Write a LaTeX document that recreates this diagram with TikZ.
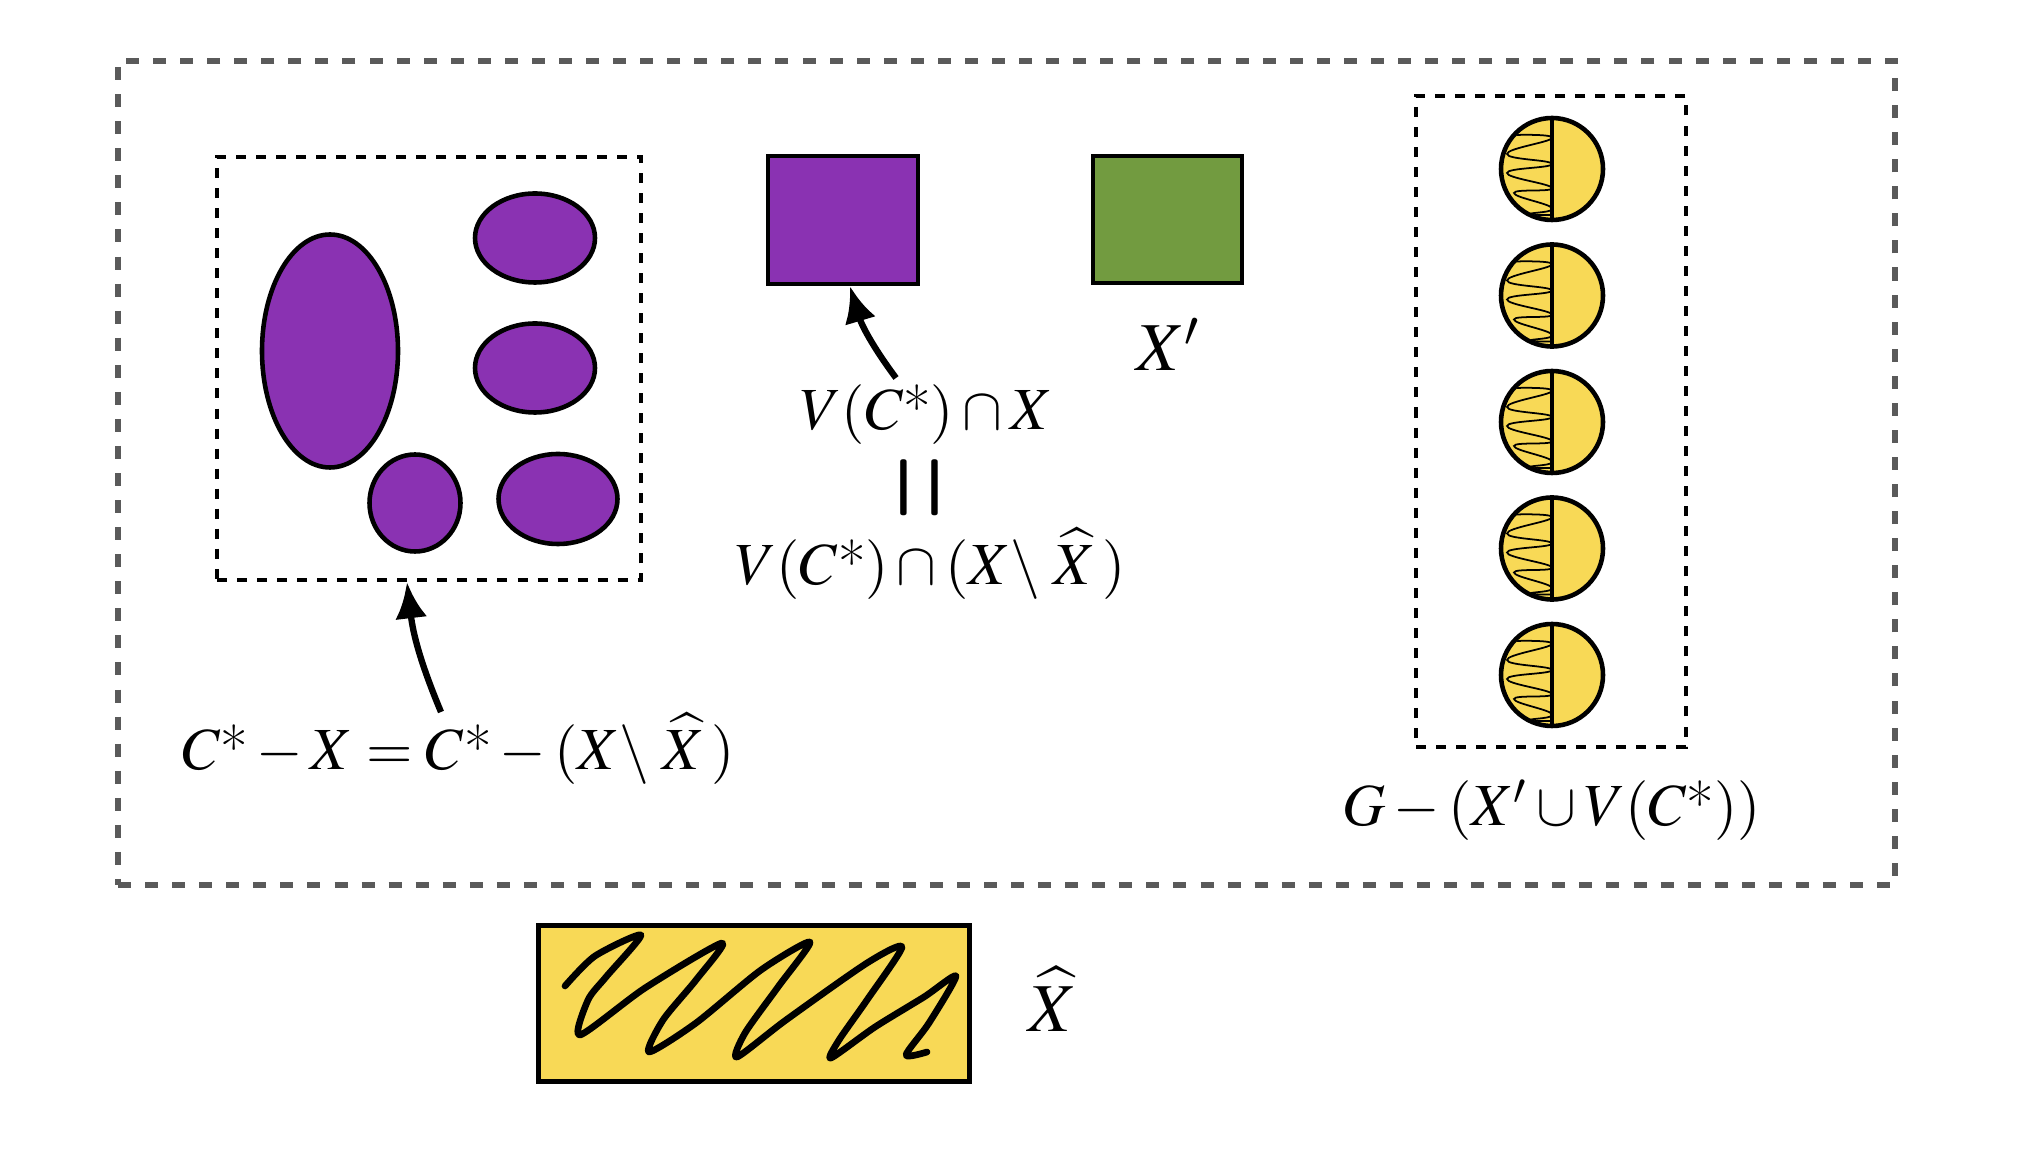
\documentclass[tikz,border=0pt]{standalone}
\usepackage{mathptmx}
\usepackage{graphicx}
\usetikzlibrary{shapes.geometric,arrows.meta,positioning,calc}
\definecolor{cpurple}{HTML}{8A32B2}
\definecolor{cgreen}{HTML}{729B40}
\definecolor{cyellow}{HTML}{F8D956}
\definecolor{cgray}{HTML}{5A5A5A}
\newcommand{\cstar}{C\mbox{*}}

\tikzset{
  frame/.style={draw=cgray, line width=1.5pt, dash pattern=on 3.7pt off 4pt, inner sep=0pt},
  setbox/.style={draw, line width=1.3pt, dash pattern=on 2.85pt off 2.85pt, inner sep=0pt},
  blob/.style={ellipse, draw, line width=1.3pt, fill=cpurple, inner sep=0pt},
  block/.style={rectangle, draw, line width=1.3pt, inner sep=0pt},
  halfball/.style={circle, draw, line width=1.3pt, fill=cyellow, minimum size=1.02cm, inner sep=0pt},
  lbl/.style={font=\fontsize{17}{21}\selectfont, inner sep=0pt, anchor=base},
  biglbl/.style={lbl, font=\fontsize{19.5}{23}\selectfont},
  pointer/.style={-{Latex[length=3.6mm,width=3.2mm]}, line width=1.8pt},
}

\begin{document}
\begin{tikzpicture}
\useasboundingbox (0,0) rectangle (20.35,-11.53);

% Outer frame
\node[frame, minimum width=17.77cm, minimum height=8.24cm] (outer) at (10.065,-4.73) {};

% Components of C* - X
\node[setbox, minimum width=4.24cm, minimum height=4.23cm] (cbox) at (4.29,-3.685) {};
\node[blob, minimum width=1.36cm, minimum height=2.33cm] (c1) at (3.30,-3.51) {};
\node[blob, minimum width=1.20cm, minimum height=0.89cm] (c2) at (5.35,-2.38) {};
\node[blob, minimum width=1.20cm, minimum height=0.89cm] (c3) at (5.35,-3.68) {};
\node[blob, minimum width=0.91cm, minimum height=0.97cm] (c4) at (4.15,-5.03) {};
\node[blob, minimum width=1.19cm, minimum height=0.90cm] (c5) at (5.58,-4.99) {};

\coordinate (tailC) at (4.41,-7.12);
\draw[pointer] (tailC) to[bend left=8] ([xshift=-2.2mm]cbox.south);
\node[lbl] (lblC) at (4.585,-7.70) {$\cstar - X = \cstar - (X\backslash\;\widehat{X}\,)$};

% V(C*) and X'
\node[block, fill=cpurple, minimum width=1.50cm, minimum height=1.28cm] (sqV) at (8.43,-2.20) {};
\node[block, fill=cgreen, minimum width=1.49cm, minimum height=1.27cm] (sqX) at (11.675,-2.195) {};
\node[biglbl] (lblX) at (11.68,-3.71) {$X'$};

\coordinate (tailV) at (8.96,-3.78);
\draw[pointer] (tailV) to[bend left=10] ([xshift=0.7mm]sqV.south);
\node[lbl] (lblV) at (9.265,-4.30) {$V(\cstar)\cap X$};
\node[font=\fontsize{24}{26}\selectfont, inner sep=0pt, rotate=90] (eqV) at (9.30,-4.88) {\scalebox{1}[1.9]{$=$}};
\node[lbl] (lblW) at (9.305,-5.85) {$V(\cstar)\cap (X\backslash\;\widehat{X}\,)$};

% Rest of the graph
\node[setbox, minimum width=2.70cm, minimum height=6.51cm] (gbox) at (15.51,-4.215) {};
\foreach \i in {0,...,4} {
  \node[halfball] (b\i) at (15.52,{-1.69-1.265*\i}) {};
  \begin{scope}
    \clip (b\i.center) circle (0.49);
    \draw[line width=0.5pt] plot[smooth, tension=0.8] coordinates {
      ($(b\i.center)+(-0.37,0.34)$) ($(b\i.center)+(0,0.31)$)
      ($(b\i.center)+(-0.45,0.15)$) ($(b\i.center)+(0,0.05)$)
      ($(b\i.center)+(-0.45,-0.04)$) ($(b\i.center)+(0,-0.19)$)
      ($(b\i.center)+(-0.38,-0.24)$) ($(b\i.center)+(0,-0.39)$)
      ($(b\i.center)+(-0.22,-0.45)$) ($(b\i.center)+(0,-0.46)$)};
  \end{scope}
  \draw[line width=1.3pt] (b\i.north) -- (b\i.south);
}
\node[lbl] (lblG) at (15.515,-8.26) {$G - (X'\cup V(\cstar))$};

% X hat
\node[block, fill=cyellow, line width=1.5pt, minimum width=4.31cm, minimum height=1.56cm] (hbox) at (7.54,-10.035) {};
\draw[line width=1.9pt, line cap=round, line join=round] plot[smooth, tension=0.45] coordinates {
  (5.65,-9.86) (5.95,-9.56) (6.41,-9.35) (6.06,-9.77) (5.88,-10.0) (5.80,-10.35)
  (6.45,-9.88) (7.22,-9.43) (6.96,-9.80) (6.63,-10.20) (6.49,-10.52)
  (6.96,-10.23) (7.61,-9.70) (8.10,-9.42) (7.78,-9.87) (7.45,-10.33) (7.37,-10.57)
  (7.86,-10.20) (8.67,-9.63) (9.02,-9.47) (8.67,-10.00) (8.39,-10.40) (8.31,-10.58)
  (8.75,-10.27) (9.24,-9.97) (9.56,-9.76) (9.29,-10.23) (9.06,-10.55) (9.27,-10.52)};
\node[biglbl] (lblH) at (10.53,-10.32) {$\widehat{X}$};

\end{tikzpicture}
\end{document}
